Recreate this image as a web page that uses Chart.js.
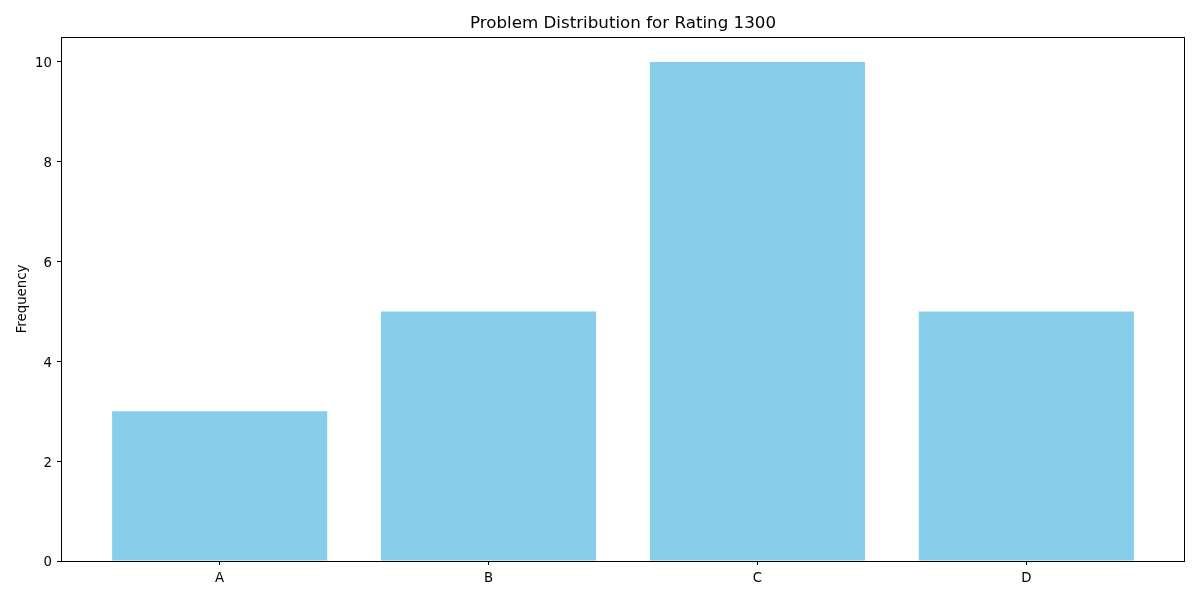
<!DOCTYPE html>
<html>
<head>
<meta charset="utf-8">
<script src="https://cdn.jsdelivr.net/npm/chart.js@4/dist/chart.umd.min.js"></script>
<style>
html,body{margin:0;padding:0;background:#fff;}
#wrap{width:1200px;height:600px;}
</style>
</head>
<body>
<div id="wrap"><canvas id="c" width="1200" height="600"></canvas></div>
<script>
const categories = ['A', 'B', 'C', 'D'];
const frequencies = [3, 5, 10, 5];
const yTicks = [0, 2, 4, 6, 8, 10];
const chartTitle = 'Problem Distribution for Rating 1300';
const yLabel = 'Frequency';

const FONT = 'DejaVu Sans';

const framePlugin = {
  id: 'frame',
  afterDraw(chart) {
    const {ctx, chartArea: a} = chart;
    ctx.save();
    ctx.strokeStyle = '#000';
    ctx.lineWidth = 1;
    ctx.strokeRect(Math.round(a.left) + 0.5, Math.round(a.top) + 0.5,
                   Math.round(a.right - a.left) - 1, Math.round(a.bottom - a.top));
    ctx.fillStyle = '#000';
    ctx.font = '16.7px "' + FONT + '"';
    ctx.textAlign = 'center';
    ctx.textBaseline = 'bottom';
    ctx.fillText(chartTitle, (a.left + a.right) / 2, a.top - 5);
    ctx.restore();
  }
};

new Chart(document.getElementById('c'), {
  type: 'bar',
  data: {
    datasets: [{
      data: categories.map((c, i) => ({x: i, y: frequencies[i]})),
      backgroundColor: '#87CEEB',
      borderWidth: 0,
      barPercentage: 0.8,
      categoryPercentage: 1.0
    }]
  },
  options: {
    responsive: false,
    animation: false,
    layout: {padding: {left: 15, top: 37, right: 15, bottom: 0}},
    plugins: {legend: {display: false}, title: {display: false}, tooltip: {enabled: false}},
    scales: {
      x: {
        type: 'linear',
        offset: false,
        min: -0.59,
        max: categories.length - 1 + 0.59,
        afterBuildTicks(scale) { scale.ticks = categories.map((c, i) => ({value: i})); },
        afterFit(scale) { scale.height = 39; },
        ticks: {
          includeBounds: false,
          autoSkip: false,
          maxRotation: 0,
          padding: 6,
          color: '#000',
          font: {family: FONT, size: 13.3},
          callback: (v) => categories[v]
        },
        grid: {display: true, offset: false, drawOnChartArea: false, drawTicks: true, tickLength: 4, color: '#000'},
        border: {display: false}
      },
      y: {
        min: 0,
        max: 10.5,
        afterBuildTicks(scale) { scale.ticks = yTicks.map(v => ({value: v})); },
        afterFit(scale) { scale.width = 46; },
        ticks: {
          includeBounds: false,
          padding: 5,
          labelOffset: 2,
          color: '#000',
          font: {family: FONT, size: 13.3}
        },
        title: {display: true, text: yLabel, color: '#000', font: {family: FONT, size: 13.3}, padding: 0},
        grid: {display: true, drawOnChartArea: false, drawTicks: true, tickLength: 4, color: '#000'},
        border: {display: false}
      }
    }
  },
  plugins: [framePlugin]
});
</script>
</body>
</html>
